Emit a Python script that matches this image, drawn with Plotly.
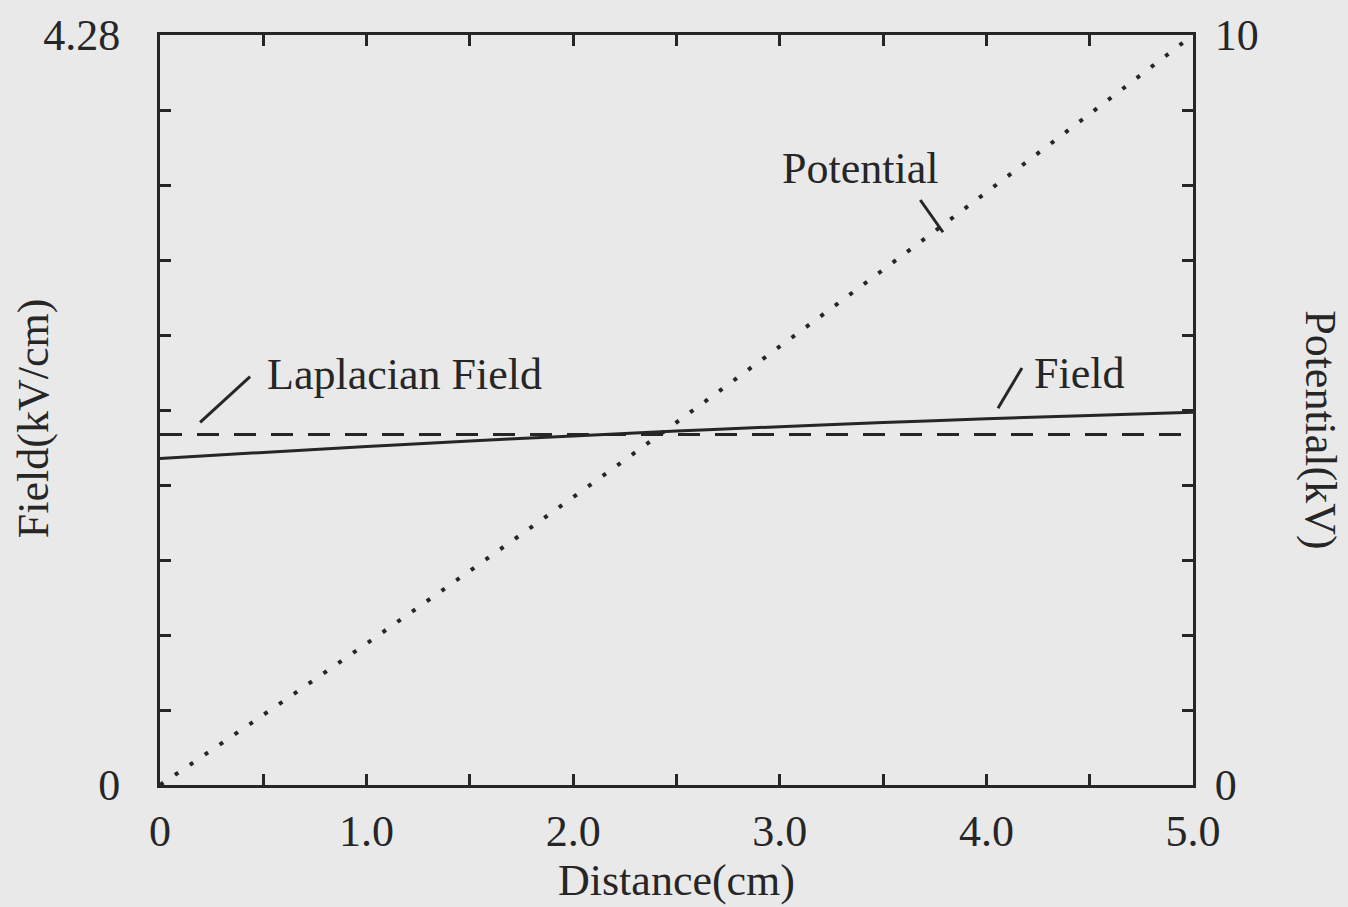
import plotly.graph_objects as go

# ---- data ----
distance = [0.0, 0.5, 1.0, 1.5, 2.0, 2.5, 3.0, 3.5, 4.0, 4.5, 5.0]          # cm
field = [1.863, 1.898, 1.932, 1.963, 1.992, 2.020, 2.045, 2.068, 2.090, 2.109, 2.127]  # kV/cm
laplacian_field = [2.0, 2.0, 2.0, 2.0, 2.0, 2.0, 2.0, 2.0, 2.0, 2.0, 2.0]   # kV/cm
potential = [0.0, 0.935, 1.887, 2.856, 3.838, 4.835, 5.847, 6.869, 7.903, 8.947, 10.0]  # kV

x_tickvals = [0, 0.5, 1.0, 1.5, 2.0, 2.5, 3.0, 3.5, 4.0, 4.5, 5.0]
x_ticktext = ["0", "", "1.0", "", "2.0", "", "3.0", "", "4.0", "", "5.0"]
y_tickvals = [0, 0.428, 0.856, 1.284, 1.712, 2.14, 2.568, 2.996, 3.424, 3.852, 4.28]
y_ticktext = ["0", "", "", "", "", "", "", "", "", "", "4.28"]
y2_tickvals = [0, 1, 2, 3, 4, 5, 6, 7, 8, 9, 10]
y2_ticktext = ["0", "", "", "", "", "", "", "", "", "", "10"]

INK = "#262626"
BG = "#e9e9e9"
FONT = "Liberation Serif"
FS = 44

fig = go.Figure()
fig.add_trace(go.Scatter(x=distance, y=laplacian_field, mode="lines",
                         line=dict(color=INK, width=3, dash="22px,15px"),
                         hoverinfo="skip", showlegend=False))
fig.add_trace(go.Scatter(x=distance, y=field, mode="lines",
                         line=dict(color=INK, width=3, shape="spline"),
                         hoverinfo="skip", showlegend=False))
fig.add_trace(go.Scatter(x=distance, y=potential, mode="lines", yaxis="y2",
                         line=dict(color=INK, width=4, dash="4px,14px", shape="spline"),
                         hoverinfo="skip", showlegend=False))

axis_common = dict(showgrid=False, zeroline=False, showline=True, linecolor=INK,
                   linewidth=3, ticks="inside", ticklen=11, tickwidth=2.5, tickcolor=INK,
                   tickfont=dict(family=FONT, size=FS, color=INK))

fig.update_layout(
    width=1348, height=907,
    margin=dict(l=160, r=155, t=35, b=122),
    paper_bgcolor=BG, plot_bgcolor=BG,
    xaxis=dict(range=[0, 5.0], tickvals=x_tickvals, ticktext=x_ticktext,
               mirror="ticks", ticklabelstandoff=5, **axis_common),
    yaxis=dict(range=[0, 4.28], tickvals=y_tickvals, ticktext=y_ticktext,
               ticklabelstandoff=28, **axis_common),
    yaxis2=dict(range=[0, 10], tickvals=y2_tickvals, ticktext=y2_ticktext,
                overlaying="y", side="right", ticklabelstandoff=10, **axis_common),
)

tf = dict(family=FONT, size=FS, color=INK)
annotations = [
    dict(text="Distance(cm)", x=2.5, y=-0.127, xref="x", yref="paper",
         showarrow=False, font=tf, xanchor="center", yanchor="middle"),
    dict(text="Field(kV/cm)", x=-0.123, y=0.489, xref="paper", yref="paper",
         showarrow=False, font=tf, textangle=-90, xanchor="center", yanchor="middle"),
    dict(text="Potential(kV)", x=1.124, y=0.473, xref="paper", yref="paper",
         showarrow=False, font=tf, textangle=90, xanchor="center", yanchor="middle"),
    dict(text="Laplacian Field", x=0.51, y=2.34, xref="x", yref="y",
         showarrow=False, font=tf, xanchor="left", yanchor="middle"),
    dict(text="Field", x=4.22, y=2.35, xref="x", yref="y",
         showarrow=False, font=tf, xanchor="left", yanchor="middle"),
    dict(text="Potential", x=3.0, y=8.22, xref="x", yref="y2",
         showarrow=False, font=tf, xanchor="left", yanchor="middle"),
]
fig.update_layout(annotations=annotations)

line_style = dict(color=INK, width=3)
fig.add_shape(type="line", xref="x", yref="y", x0=0.194, y0=2.07, x1=0.436, y1=2.33, line=line_style)
fig.add_shape(type="line", xref="x", yref="y", x0=4.056, y0=2.15, x1=4.172, y1=2.38, line=line_style)
fig.add_shape(type="line", xref="x", yref="y2", x0=3.68, y0=7.8, x1=3.79, y1=7.37, line=line_style)

fig.write_html("out.html", config={"displayModeBar": False},
               post_script="document.body.style.margin='0px';document.body.style.overflow='hidden';"
                           "document.body.style.background='" + BG + "';")
